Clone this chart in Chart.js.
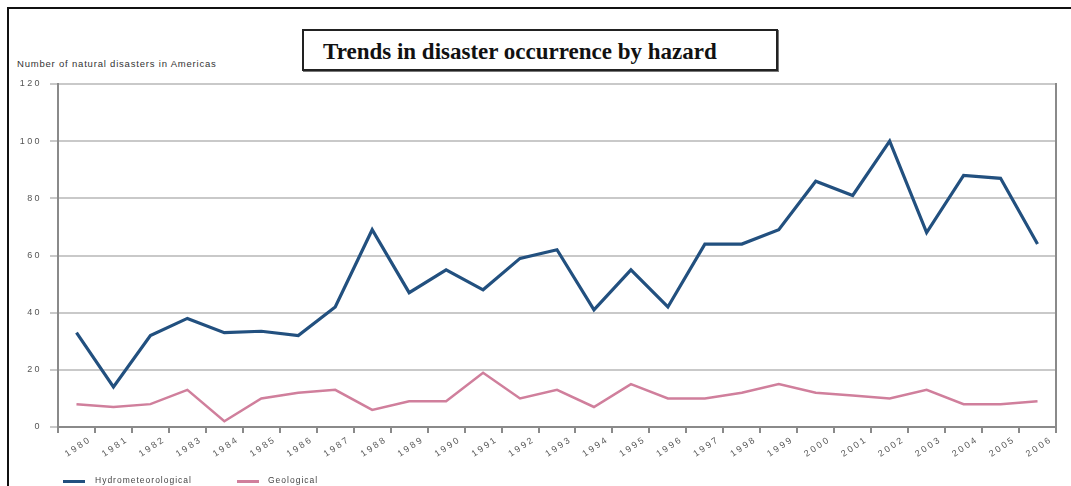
<!DOCTYPE html>
<html lang="en">
<head>
<meta charset="utf-8">
<title>Trends in disaster occurrence by hazard</title>
<script src="https://cdn.jsdelivr.net/npm/chart.js@4/dist/chart.umd.min.js"></script>
<style>
    html, body {
        margin: 0;
        padding: 0;
        background: #fff;
        width: 1071px;
        height: 486px;
        overflow: hidden;
        font-family: "Liberation Sans", Arial, sans-serif;
    }
    .frame {
        position: absolute;
        left: 7px;
        top: 7px;
        width: 1080px;
        height: 500px;
        border-left: 2px solid #111;
        border-top: 2px solid #111;
    }
    .title-box {
        position: absolute;
        left: 302px;
        top: 29px;
        width: 472px;
        height: 38px;
        border: 2px solid #222;
        box-shadow: 1px 1px 0 #777;
    }
    .title-box span {
        position: absolute;
        left: 19px;
        top: 8px;
        font-family: "Liberation Serif", "Times New Roman", serif;
        font-weight: bold;
        font-size: 23px;
        color: #111;
        white-space: nowrap;
    }
    .y-title {
        position: absolute;
        left: 17px;
        top: 58px;
        font-size: 9.5px;
        color: #333;
        letter-spacing: 0.8px;
        white-space: nowrap;
    }
    .legend {
        position: absolute;
        top: 475px;
        left: 0;
        font-size: 8.5px;
        letter-spacing: 1px;
        color: #444;
    }
    .legend .item {
        position: absolute;
        white-space: nowrap;
    }
    .legend .swatch {
        position: absolute;
        top: 5px;
        height: 3px;
    }
    canvas {
        position: absolute;
        left: 0;
        top: 0;
    }
</style>
</head>
<body>
<div class="frame"></div>
<div class="title-box"><span>Trends in disaster occurrence by hazard</span></div>
<div class="y-title">Number of natural disasters in Americas</div>
<canvas id="chart" width="1071" height="486"></canvas>
<div class="legend" id="legend"></div>

<script>
// Years on the x axis
const years = ['1980', '1981', '1982', '1983', '1984', '1985', '1986', '1987', '1988', '1989',
    '1990', '1991', '1992', '1993', '1994', '1995', '1996', '1997', '1998', '1999',
    '2000', '2001', '2002', '2003', '2004', '2005', '2006'];

// Number of disasters per year
const hydroValues = [33, 14, 32, 38, 33, 33.5, 32, 42, 69, 47,
    55, 48, 59, 62, 41, 55, 42, 64, 64, 69,
    86, 81, 100, 68, 88, 87, 64];
const geoValues = [8, 7, 8, 13, 2, 10, 12, 13, 6, 9,
    9, 19, 10, 13, 7, 15, 10, 10, 12, 15,
    12, 11, 10, 13, 8, 8, 9];

const yTicks = [0, 20, 40, 60, 80, 100, 120];

const seriesNames = ['Hydrometeorological', 'Geological'];
const seriesColors = ['#22507f', '#d07f9c'];

// Canvas letter spacing for the small tick labels
const spacedText = {
    id: 'spacedText',
    beforeDraw(chart) {
        chart.ctx.letterSpacing = '2.4px';
    },
    afterDraw(chart) {
        chart.ctx.letterSpacing = '0px';
    }
};

function buildChart() {
    const ctx = document.getElementById('chart');

    return new Chart(ctx, {
        type: 'line',
        data: {
            labels: years,
            datasets: [
                {
                    label: seriesNames[0],
                    data: hydroValues,
                    borderColor: seriesColors[0],
                    borderWidth: 3.2,
                    pointRadius: 0,
                    tension: 0
                },
                {
                    label: seriesNames[1],
                    data: geoValues,
                    borderColor: seriesColors[1],
                    borderWidth: 2.5,
                    pointRadius: 0,
                    tension: 0
                }
            ]
        },
        options: {
            responsive: false,
            animation: false,
            events: [],
            layout: {
                padding: { top: 84, right: 15, left: 0, bottom: 0 }
            },
            plugins: {
                legend: { display: false },
                tooltip: { enabled: false }
            },
            scales: {
                x: {
                    offset: true,
                    afterFit: (scale) => { scale.height = 59; },
                    grid: {
                        offset: true,
                        drawOnChartArea: false,
                        drawTicks: true,
                        tickLength: 6,
                        color: '#8a8a8a',
                        lineWidth: 2
                    },
                    border: { color: '#8a8a8a', width: 2 },
                    ticks: {
                        autoSkip: false,
                        minRotation: 34,
                        maxRotation: 34,
                        labelOffset: 14,
                        padding: 1,
                        color: '#555',
                        font: { family: 'Liberation Sans', size: 9 }
                    }
                },
                y: {
                    min: 0,
                    max: 120,
                    afterFit: (scale) => { scale.width = 58; },
                    afterBuildTicks: (scale) => {
                        scale.ticks = yTicks.map(v => ({ value: v }));
                    },
                    grid: {
                        color: '#c9c9c9',
                        lineWidth: 2,
                        drawTicks: true,
                        tickLength: 8
                    },
                    border: { color: '#8a8a8a', width: 2 },
                    ticks: {
                        padding: 8,
                        color: '#555',
                        font: { family: 'Liberation Sans', size: 9 }
                    }
                },
                yRight: {
                    position: 'right',
                    min: 0,
                    max: 120,
                    afterFit: (scale) => { scale.width = 0; },
                    grid: { drawOnChartArea: false, drawTicks: false },
                    border: { color: '#8a8a8a', width: 2 },
                    ticks: { display: false }
                }
            }
        },
        plugins: [spacedText]
    });
}

// Legend under the axis
function buildLegend() {
    const container = document.getElementById('legend');
    const swatchX = [63, 237];
    const textX = [95, 268];

    container.innerHTML = seriesNames.map((name, i) => `
        <div class="swatch" style="left:${swatchX[i]}px;width:22px;background:${seriesColors[i]}"></div>
        <div class="item" style="left:${textX[i]}px">${name}</div>
    `).join('');
}

document.addEventListener('DOMContentLoaded', () => {
    buildChart();
    buildLegend();
});
</script>
</body>
</html>
